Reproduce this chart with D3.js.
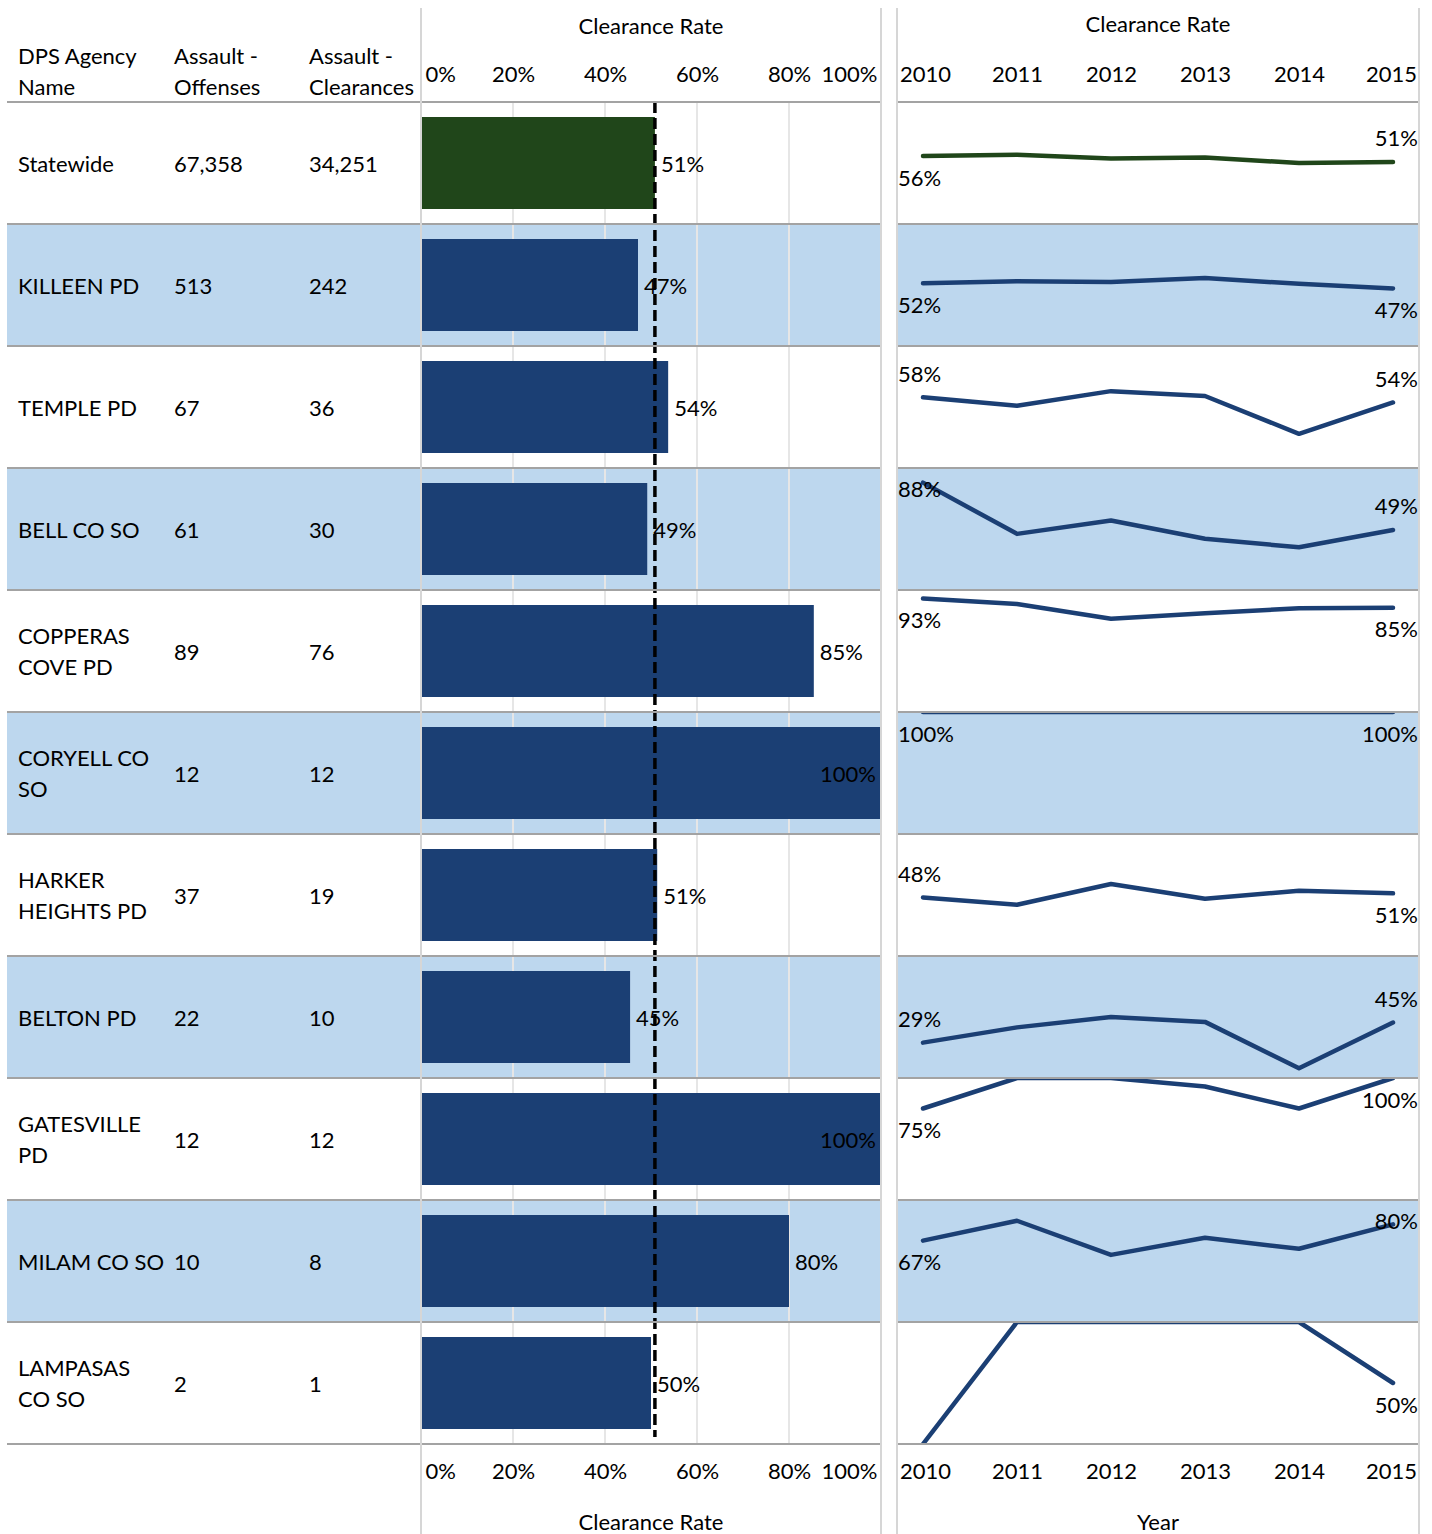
<!DOCTYPE html>
<html><head><meta charset="utf-8">
<script src="https://cdn.jsdelivr.net/npm/d3@7"></script>
<style>
body{margin:0;background:#fff;}
svg text{font-family:Lato,"Open Sans",sans-serif;font-size:22px;fill:#000;}
</style></head>
<body><svg id="chart" width="1432" height="1534"></svg>
<script>
// ---------- data ----------
const agencies = ["Statewide","KILLEEN PD","TEMPLE PD","BELL CO SO","COPPERAS\nCOVE PD","CORYELL CO\nSO","HARKER\nHEIGHTS PD","BELTON PD","GATESVILLE\nPD","MILAM CO SO","LAMPASAS\nCO SO"];
const offenses   = [67358, 513, 67, 61, 89, 12, 37, 22, 12, 10, 2];
const clearances = [34251, 242, 36, 30, 76, 12, 19, 10, 12, 8, 1];
const years = [2010, 2011, 2012, 2013, 2014, 2015];
const trendRates = [
  [0.557, 0.567, 0.537, 0.545, 0.500, 0.5085],
  [0.515, 0.530, 0.525, 0.557, 0.510, 0.4717],
  [0.580, 0.510, 0.630, 0.590, 0.280, 0.537],
  [0.880, 0.460, 0.570, 0.420, 0.350, 0.492],
  [0.930, 0.885, 0.765, 0.810, 0.850, 0.854],
  [1.000, 1.000, 1.000, 1.000, 1.000, 1.000],
  [0.480, 0.420, 0.590, 0.470, 0.535, 0.5135],
  [0.290, 0.415, 0.500, 0.460, 0.080, 0.4545],
  [0.750, 1.000, 1.000, 0.930, 0.750, 1.000],
  [0.667, 0.830, 0.550, 0.690, 0.600, 0.800],
  [0.000, 1.000, 1.000, 1.000, 1.000, 0.500]
];
const rateTicks = [0, 0.2, 0.4, 0.6, 0.8, 1.0];
const headers = [["DPS Agency","Name"],["Assault -","Offenses"],["Assault -","Clearances"]];
// label sides (start, end) for the sparkline end labels
const labelSides = [["below","above"],["below","below"],["above","above"],["above","above"],["below","below"],["below","below"],["above","below"],["above","above"],["below","below"],["below","above"],["below","below"]];

// ---------- layout ----------
const W = 1432, H = 1534;
const top0 = 102, rowH = 122, n = agencies.length, bottom0 = top0 + rowH*n;
const tableX0 = 7, barX0 = 421, barX1 = 881, lineX0 = 897, lineX1 = 1419;
const colX = [18, 174, 309];
const C = {green:"#20461a", blue:"#1b3f74", band:"#bdd7ee", border:"#a3a3a3", vline:"#d6d6d6", grid:"#e6e6e6"};
const fmtInt = d3.format(",");
const fmtPct = d3.format(".0%");
const rates = clearances.map((c,i)=>c/offenses[i]);
const idx = d3.range(n);

const svg = d3.select("#chart");
const rowY = d3.scaleBand().domain(idx).range([top0, bottom0]).padding(0);
const barY = d3.scaleBand().domain(idx).range([top0, bottom0]).paddingInner(30/122).paddingOuter(15/122);
const x = d3.scaleLinear().domain([0,1]).range([barX0, barX1]);
const xYear = d3.scalePoint().domain(years).range([923, 1393]);

// row backgrounds
const bg = svg.append("g");
idx.filter(i=>i%2===1).forEach(i=>{
  bg.append("rect").attr("x",tableX0).attr("y",rowY(i)).attr("width",barX1-tableX0).attr("height",rowH).attr("fill",C.band);
  bg.append("rect").attr("x",lineX0).attr("y",rowY(i)).attr("width",lineX1-lineX0).attr("height",rowH).attr("fill",C.band);
});

// gridlines in bar panel
svg.append("g").selectAll("line").data(rateTicks.slice(1,-1)).join("line")
  .attr("x1",d=>x(d)).attr("x2",d=>x(d)).attr("y1",top0).attr("y2",bottom0)
  .attr("stroke",C.grid).attr("stroke-width",2);

// bars
svg.append("g").selectAll("rect").data(idx).join("rect")
  .attr("x",x(0)+1).attr("y",i=>barY(i)).attr("width",i=>x(rates[i])-x(0)-1).attr("height",barY.bandwidth())
  .attr("fill",i=>i===0?C.green:C.blue);

// bar labels
svg.append("g").selectAll("text").data(idx).join("text")
  .attr("x",i=> rates[i] > 0.95 ? x(rates[i]) - 5 : x(rates[i]) + 6)
  .attr("text-anchor",i=> rates[i] > 0.95 ? "end" : "start")
  .attr("y",i=>barY(i)+barY.bandwidth()/2).attr("dominant-baseline","central")
  .text(i=>fmtPct(rates[i]));

// statewide reference line
svg.append("line").attr("x1",x(rates[0])).attr("x2",x(rates[0])).attr("y1",top0).attr("y2",bottom0-7)
  .attr("stroke","#000").attr("stroke-width",3.5).attr("stroke-dasharray","11,5");

// sparklines
const defs = svg.append("defs");
const lineG = svg.append("g");
idx.forEach(i=>{
  const y = d3.scaleLinear().domain([0,1]).range([rowY(i)+rowH, rowY(i)]);
  defs.append("clipPath").attr("id","clip"+i).append("rect")
    .attr("x",lineX0).attr("y",rowY(i)).attr("width",lineX1-lineX0).attr("height",rowH);
  const g = lineG.append("g").attr("clip-path",`url(#clip${i})`);
  const line = d3.line().x((d,k)=>xYear(years[k])).y(d=>y(d));
  g.append("path").datum(trendRates[i]).attr("d",line).attr("fill","none")
    .attr("stroke",i===0?C.green:C.blue).attr("stroke-width",4.5)
    .attr("stroke-linejoin","round").attr("stroke-linecap","round");
  const vals = trendRates[i];
  [[0,"start"],[vals.length-1,"end"]].forEach(([k,anchor],j)=>{
    const side = labelSides[i][j];
    let cy = y(vals[k]) + (side==="below" ? 21 : -24);
    cy = Math.max(cy, rowY(i)+20);
    if (cy > rowY(i)+rowH-8) return;
    g.append("text").attr("x", anchor==="start" ? lineX0+1 : lineX1-1).attr("text-anchor",anchor)
      .attr("y",cy).attr("dominant-baseline","central").text(fmtPct(vals[k]));
  });
});

// table text
const tbl = svg.append("g");
idx.forEach(i=>{
  const cy = rowY(i)+rowH/2;
  const lines = agencies[i].split("\n");
  lines.forEach((t,k)=>{
    tbl.append("text").attr("x",colX[0]).attr("y",cy + (k-(lines.length-1)/2)*31)
      .attr("dominant-baseline","central").text(t);
  });
  tbl.append("text").attr("x",colX[1]).attr("y",cy).attr("dominant-baseline","central").text(fmtInt(offenses[i]));
  tbl.append("text").attr("x",colX[2]).attr("y",cy).attr("dominant-baseline","central").text(fmtInt(clearances[i]));
});
headers.forEach((h,c)=>{
  h.forEach((t,k)=>{
    tbl.append("text").attr("x",colX[c]).attr("y",55+k*31).attr("dominant-baseline","central").text(t);
  });
});

// horizontal borders
const hb = svg.append("g");
d3.range(n+1).forEach(k=>{
  const yy = top0 + k*rowH;
  hb.append("line").attr("x1",tableX0).attr("x2",barX1).attr("y1",yy).attr("y2",yy).attr("stroke",C.border).attr("stroke-width",2);
  hb.append("line").attr("x1",lineX0).attr("x2",lineX1).attr("y1",yy).attr("y2",yy).attr("stroke",C.border).attr("stroke-width",2);
});
// vertical panel lines
[barX0, barX1, lineX0, lineX1].forEach(xx=>{
  svg.append("line").attr("x1",xx).attr("x2",xx).attr("y1",8).attr("y2",H).attr("stroke",C.vline).attr("stroke-width",2);
});

// axes
function styleRateAxis(g){
  g.select(".domain").remove();
  g.selectAll(".tick line").remove();
  g.selectAll(".tick text").attr("font-size",null).attr("font-family",null)
    .attr("text-anchor",(d,k,a)=> k===0 ? "start" : (k===a.length-1 ? "end" : "middle"))
    .attr("dx",(d,k,a)=> k===0 ? 4 : (k===a.length-1 ? -4 : 0))
    .attr("dy","0.35em").attr("y",0);
}
function styleYearAxis(g){
  g.select(".domain").remove();
  g.selectAll(".tick line").remove();
  g.selectAll(".tick text").attr("font-size",null).attr("font-family",null).attr("dy","0.35em").attr("y",0)
    .attr("dx",(d,k,a)=> k===0 ? 2 : (k===a.length-1 ? -2 : 0));
}
svg.append("g").attr("transform","translate(0,74)").call(d3.axisTop(x).tickValues(rateTicks).tickFormat(d3.format(".0%"))).call(styleRateAxis);
svg.append("g").attr("transform","translate(0,1471)").call(d3.axisBottom(x).tickValues(rateTicks).tickFormat(d3.format(".0%"))).call(styleRateAxis);
svg.append("g").attr("transform","translate(0,74)").call(d3.axisTop(xYear).tickFormat(d3.format("d"))).call(styleYearAxis);
svg.append("g").attr("transform","translate(0,1471)").call(d3.axisBottom(xYear).tickFormat(d3.format("d"))).call(styleYearAxis);

// titles
const titles = [["Clearance Rate",(barX0+barX1)/2,25],["Clearance Rate",(lineX0+lineX1)/2,23],["Clearance Rate",(barX0+barX1)/2,1521],["Year",(lineX0+lineX1)/2,1521]];
titles.forEach(([t,xx,yy])=>svg.append("text").attr("x",xx).attr("y",yy).attr("text-anchor","middle").attr("dominant-baseline","central").text(t));
</script></body></html>
